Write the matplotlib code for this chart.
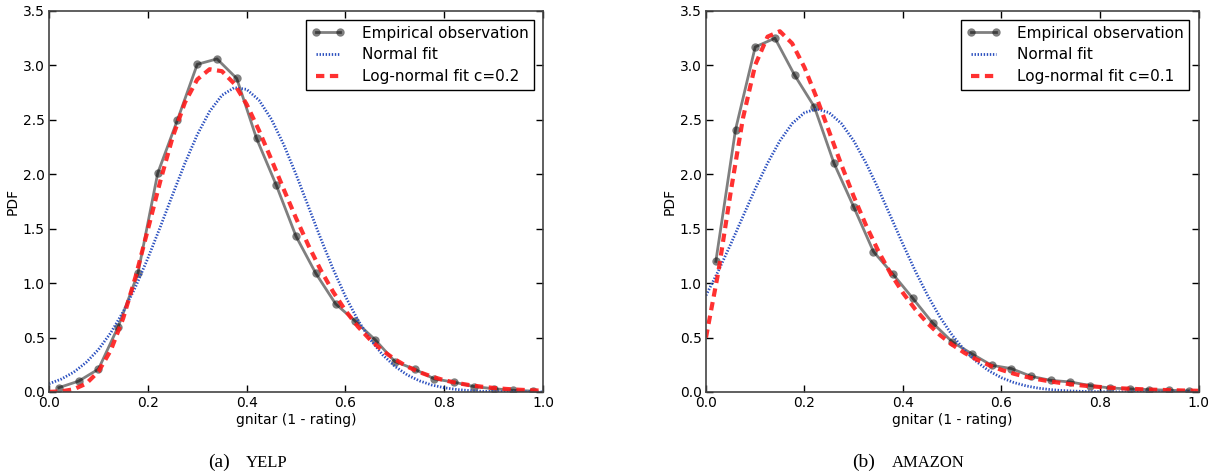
import numpy as np
import matplotlib
matplotlib.use("Agg")
import matplotlib.pyplot as plt
from matplotlib.ticker import FormatStrFormatter, MultipleLocator

plt.rcParams['font.family'] = ['DejaVu Sans']
plt.rcParams['lines.scale_dashes'] = False

# empirical histogram bins (bin centres) and observed densities
bin_x = [0.02, 0.06, 0.10, 0.14, 0.18, 0.22, 0.26, 0.30, 0.34, 0.38, 0.42, 0.46, 0.50,
         0.54, 0.58, 0.62, 0.66, 0.70, 0.74, 0.78, 0.82, 0.86, 0.90, 0.94, 0.98]
yelp_obs = [0.04, 0.10, 0.21, 0.60, 1.09, 2.01, 2.50, 3.01, 3.06, 2.88, 2.33, 1.90, 1.43,
            1.09, 0.81, 0.65, 0.48, 0.28, 0.21, 0.12, 0.09, 0.05, 0.03, 0.016, 0.008]
amazon_obs = [1.20, 2.41, 3.17, 3.25, 2.91, 2.62, 2.10, 1.70, 1.29, 1.08, 0.86, 0.635, 0.46,
              0.35, 0.245, 0.215, 0.144, 0.107, 0.092, 0.059, 0.037, 0.028, 0.022, 0.016, 0.01]

# fitted curves sampled on a regular grid over [0, 1]
fit_x = np.linspace(0.0, 1.0, 41)
yelp_normal = [0.076, 0.119, 0.182, 0.271, 0.390, 0.544, 0.736, 0.965, 1.228, 1.514, 1.811,
               2.101, 2.363, 2.577, 2.726, 2.796, 2.780, 2.681, 2.507, 2.273, 1.999, 1.704,
               1.409, 1.130, 0.878, 0.662, 0.484, 0.343, 0.236, 0.157, 0.102, 0.064, 0.039,
               0.023, 0.013, 0.007, 0.004, 0.002, 0.001, 0.0005, 0.0002]
yelp_lognormal = [0.001, 0.006, 0.025, 0.076, 0.187, 0.383, 0.676, 1.056, 1.491, 1.934, 2.338,
                  2.659, 2.871, 2.965, 2.947, 2.832, 2.643, 2.403, 2.137, 1.863, 1.597, 1.347,
                  1.120, 0.921, 0.748, 0.602, 0.480, 0.381, 0.300, 0.234, 0.182, 0.141, 0.108,
                  0.083, 0.064, 0.049, 0.037, 0.028, 0.021, 0.016, 0.012]
amazon_normal = [0.887, 1.111, 1.356, 1.612, 1.866, 2.102, 2.307, 2.466, 2.566, 2.600, 2.566,
                 2.466, 2.307, 2.102, 1.866, 1.612, 1.356, 1.111, 0.887, 0.689, 0.521, 0.384,
                 0.276, 0.193, 0.131, 0.087, 0.056, 0.035, 0.0215, 0.0128, 0.0074, 0.0042,
                 0.0023, 0.0012, 0.0006, 0.0003, 0.0001, 0.0001, 0.0, 0.0, 0.0]
amazon_lognormal = [0.50, 1.10, 1.831, 2.514, 3.005, 3.264, 3.314, 3.202, 2.981, 2.699, 2.393,
                    2.086, 1.796, 1.531, 1.294, 1.087, 0.910, 0.759, 0.631, 0.523, 0.434, 0.359,
                    0.297, 0.246, 0.203, 0.168, 0.139, 0.116, 0.096, 0.080, 0.066, 0.055, 0.046,
                    0.038, 0.032, 0.027, 0.022, 0.019, 0.016, 0.013, 0.011]

panels = [
    ('(a)', 'YELP', yelp_obs, yelp_normal, yelp_lognormal, 'c=0.2'),
    ('(b)', 'AMAZON', amazon_obs, amazon_normal, amazon_lognormal, 'c=0.1'),
]
# x (figure fraction) where each caption's tag ends / name starts
caption_x = [(0.189, 0.202), (0.719, 0.733)]

fig = plt.figure(figsize=(12.17, 4.76), dpi=100)
axes = [fig.add_axes([0.0403, 0.1765, 0.4059, 0.8004]),
        fig.add_axes([0.5801, 0.1765, 0.4047, 0.8004])]

for ax, (tag, name, obs, norm, lognorm, c_label), (tx, nx) in zip(axes, panels, caption_x):
    ax.plot(bin_x, obs, color='k', alpha=0.5, lw=2, marker='o', ms=6, mew=0,
            label='Empirical observation')
    ax.plot(fit_x, norm, color='#2a4fbf', lw=2, dashes=(1.0, 1.2), label='Normal fit')
    ax.plot(fit_x, lognorm, color='#ff1a1a', alpha=0.9, lw=3, dashes=(6, 4),
            label='Log-normal fit ' + c_label)

    ax.set_xlim(0, 1)
    ax.set_ylim(0, 3.5)
    ax.xaxis.set_major_locator(MultipleLocator(0.2))
    ax.yaxis.set_major_locator(MultipleLocator(0.5))
    ax.xaxis.set_major_formatter(FormatStrFormatter('%.1f'))
    ax.yaxis.set_major_formatter(FormatStrFormatter('%.1f'))
    ax.tick_params(direction='in', top=True, right=True, length=5, width=1,
                   labelsize=10, pad=3)
    for sp in ax.spines.values():
        sp.set_linewidth(1.2)
        sp.set_color('#444444')

    ax.set_xlabel('gnitar (1 - rating)', fontsize=10, labelpad=2)
    ax.set_ylabel('PDF', fontsize=10, labelpad=2)

    leg = ax.legend(loc='upper right', fontsize=11, numpoints=2, fancybox=False,
                    framealpha=1, edgecolor='k', handlelength=2.2, handletextpad=1.1,
                    borderpad=0.35, labelspacing=0.45, borderaxespad=0.6)
    leg.get_frame().set_linewidth(1.0)

    # subfigure caption: tag plus small-caps style dataset name
    fig.text(tx, 0.018, tag, ha='right', va='baseline',
             family='Liberation Serif', fontsize=14)
    fig.text(nx, 0.018, name, ha='left', va='baseline',
             family='Liberation Serif', fontsize=12)

fig.savefig('out.png', dpi=100)
